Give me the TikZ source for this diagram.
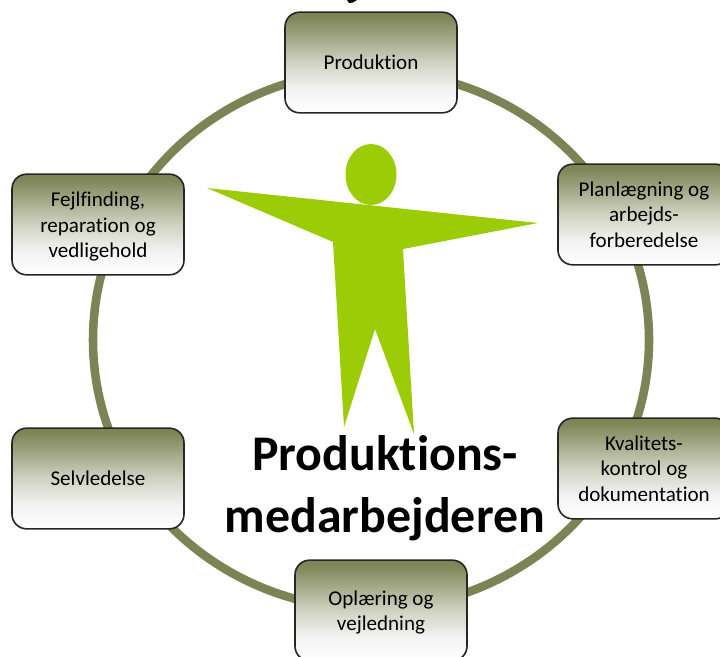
\documentclass[tikz,border=0pt]{standalone}
\usepackage{fontspec}
\setmainfont{Carlito}[Ligatures={NoCommon,NoContextual}]
\definecolor{ringgreen}{HTML}{7C8354}
\definecolor{figgreen}{HTML}{9BCC05}
\pgfdeclareverticalshading{boxfade}{100bp}{color(0bp)=(white); color(25bp)=(white); color(37bp)=(black!5); color(50bp)=(ringgreen!36); color(72bp)=(ringgreen!97); color(75bp)=(ringgreen); color(100bp)=(ringgreen)}
\newcommand{\lowline}{\rule{0pt}{14pt}}
\tikzset{
  boxrole/.style={draw=black!85, line width=1.2pt, rounded corners=11pt, shading=boxfade,
    minimum width=129pt, minimum height=75.5pt, align=center, font=\fontsize{15.8}{19.3}\selectfont, inner sep=0pt},
  ringline/.style={draw=ringgreen, line width=6.4pt},
  figpart/.style={fill=figgreen, draw=none}
}
\begin{document}
\begin{tikzpicture}[x=0.75pt, y=-0.75pt]
      \useasboundingbox (0,0) rectangle (720,656);
      \clip (0,0) rectangle (720,656);
      % Define ring
      \coordinate (ringc) at (371,340);
      \draw[ringline] (ringc) ellipse [x radius=278, y radius=269];
      % Define figure
      \fill[figpart] (371,174.5) ellipse [x radius=25.5, y radius=30.5];
      \fill[figpart] (207,188) -- (538,223) -- (403,249) -- (414,434) -- (375,329) -- (344,427) -- (333,242) -- cycle;
      % Define nodes
      \node[boxrole] (prod) at (371,62.5) {Produktion};
      \node[boxrole] (plan) at (644,214.5) {Planlægning og\\arbejds-\\forberedelse};
      \node[boxrole] (kval) at (644,468.5) {Kvalitets-\\kontrol og\\dokumentation};
      \node[boxrole] (oplr) at (381,610.5) {\lowline Oplæring og\\vejledning};
      \node[boxrole] (selv) at (98,478.5) {Selvledelse};
      \node[boxrole] (fejl) at (98,224.5) {\lowline Fejlfinding,\\reparation og\\vedligehold};
      \node[align=center, font=\fontsize{37.4}{46.5}\bfseries\selectfont] (title) at (385,488) {Produktions-\\medarbejderen};
      % Rest of a letter at the top edge
      \fill (347,0) -- (357,0) -- (353,2.5) -- (349,3) -- cycle;
    \end{tikzpicture}
\end{document}
